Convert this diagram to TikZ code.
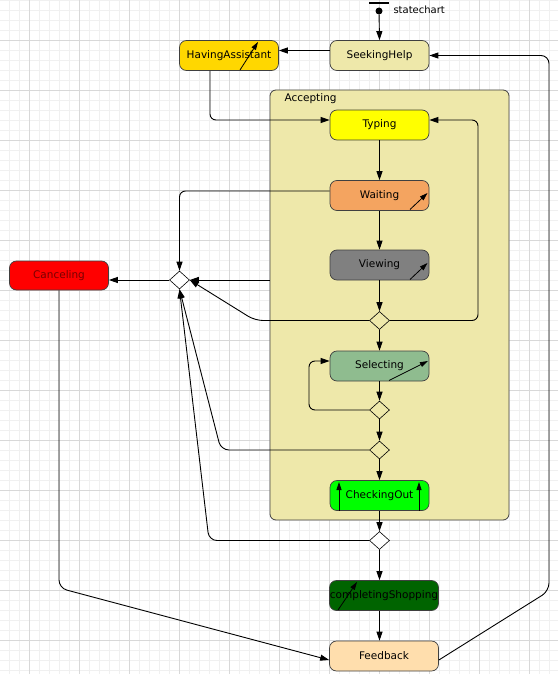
\documentclass[tikz,border=0pt]{standalone}
\usepackage{fontspec}
\setmainfont{DejaVu Sans}
\usetikzlibrary{arrows.meta,shapes.geometric,calc}
\definecolor{pgold}{HTML}{EEE8AA}
\definecolor{gridminor}{HTML}{F0F0F0}
\definecolor{gridmajor}{HTML}{D8D8D8}
\definecolor{bord}{HTML}{404040}
\begin{document}
\begin{tikzpicture}[x=1pt,y=-1pt,
  state/.style={draw=bord, line width=0.7pt, rounded corners=7pt, minimum width=99pt, minimum height=30pt, inner sep=0pt, font=\fontsize{10.5}{12}\selectfont},
  choice/.style={draw=black, line width=0.6pt, shape=diamond, minimum width=20pt, minimum height=18pt, inner sep=0pt},
  arr/.style={draw=black, line width=0.9pt, -{Triangle[length=9pt,width=6pt]}},
  icon/.style={draw=black, line width=0.8pt, -{Triangle[length=8pt,width=5pt]}}
]
\useasboundingbox (0,0) rectangle (558,674);
\fill[white] (0,0) rectangle (558,674);
% grid
\foreach \x in {9,19,...,558} \draw[gridminor, line width=0.6pt] (\x,0) -- (\x,674);
\foreach \y in {0,10,...,674} \draw[gridminor, line width=0.6pt] (0,\y) -- (558,\y);
\foreach \x in {29,79,...,558} \draw[gridmajor, line width=0.6pt] (\x,0) -- (\x,674);
\foreach \y in {40,90,...,674} \draw[gridmajor, line width=0.6pt] (0,\y) -- (558,\y);

% composite state
\node[draw=bord, line width=0.8pt, fill=pgold, rounded corners=6pt, minimum width=239pt, minimum height=430pt, inner sep=0pt] (acc) at (389.5,305) {};
\node[anchor=west, font=\fontsize{10.5}{12}\selectfont] (acclabel) at (281,99) {Accepting};

% initial
\draw[line width=2pt] (369,3) -- (389,3);
\node[circle, fill=black, inner sep=0pt, minimum size=7pt] (init) at (379,11) {};
\node[anchor=west, font=\fontsize{10}{12}\selectfont] (sclabel) at (390,9.5) {statechart};

% states
\node[state, fill=pgold] (seek) at (379.5,55.5) {SeekingHelp};
\node[state, fill={rgb,255:red,255;green,215;blue,0}] (having) at (229,55.5) {HavingAssistant};
\node[state, fill={rgb,255:red,255;green,255;blue,0}] (typing) at (379.5,125) {Typing};
\node[state, fill={rgb,255:red,244;green,164;blue,96}] (waiting) at (379.5,195.5) {Waiting};
\node[state, fill={rgb,255:red,128;green,128;blue,128}] (viewing) at (379.5,265) {Viewing};
\node[state, fill={rgb,255:red,143;green,188;blue,143}] (selecting) at (379.5,366) {Selecting};
\node[state, fill={rgb,255:red,0;green,255;blue,0}] (checking) at (379.5,495.5) {CheckingOut};
\node[state, fill={rgb,255:red,0;green,100;blue,0}, minimum width=109pt] (completing) at (384,595.5) {completingShopping};
\node[state, fill={rgb,255:red,255;green,222;blue,173}, minimum width=109pt] (feedback) at (384,656) {Feedback};
\node[state, fill={rgb,255:red,255;green,0;blue,0}, text={rgb,255:red,120;green,0;blue,0}, minimum height=29pt] (canceling) at (59,275.5) {Canceling};

% choices
\node[choice, fill=white] (dl) at (179.5,280) {};
\node[choice, fill=pgold] (d1) at (379.5,320.5) {};
\node[choice, fill=pgold] (d2) at (379.5,410) {};
\node[choice, fill=pgold] (d3) at (379.5,450) {};
\node[choice, fill=white] (d4) at (379.5,540.5) {};

% internal transition icons
\draw[icon] (240,70) -- (258,42);
\draw[icon] (410,209.5) -- (427.5,193);
\draw[icon] (410,279.5) -- (427.5,263);
\draw[icon] (389,380.5) -- (428,361);
\draw[icon] (338,610) -- (357,582);
\draw[icon] (339,510.5) -- (339,482);
\draw[icon] (419,510.5) -- (419,482);

% transitions
\draw[arr] (init) -- (seek.north);
\draw[arr] ([yshift=5pt]seek.west) -- ([yshift=5pt]having.east);
\draw[arr, rounded corners=6pt] ([xshift=-19pt]having.south) |- ([yshift=5pt]typing.west);
\draw[arr] (typing) -- (waiting);
\draw[arr] (waiting) -- (viewing);
\draw[arr] (viewing) -- (d1);
\draw[arr, rounded corners=6pt] (d1.east) -- (478,320.5) -- (478,120) -- ([yshift=5pt]typing.east);
\draw[arr] (d1) -- (selecting);
\draw[arr, rounded corners=8pt] (d1.west) -- (255,320.5) -- (dl.east);
\draw[arr, rounded corners=6pt] ([yshift=4.5pt]waiting.west) -| (dl.north);
\draw[arr] (acc.west |- dl.east) -- (dl.east);
\draw[arr] (dl.west) -- (dl.west -| canceling.east);
\draw[arr] (selecting) -- (d2);
\draw[arr, rounded corners=6pt] (d2.west) -- (309,410) -- (309,361) -- ([yshift=5pt]selecting.west);
\draw[arr] (d2) -- (d3);
\draw[arr, rounded corners=8pt] (d3.west) -- (221,450) -- (dl.south);
\draw[arr] (d3) -- (checking);
\draw[arr] (checking) -- (d4);
\draw[arr, rounded corners=8pt] (d4.west) -- (209,540.5) -- (dl.south);
\draw[arr] (d4.south) -- (d4.south |- completing.north);
\draw[arr] (d4.south |- completing.south) -- (d4.south |- feedback.north);
\draw[arr, rounded corners=8pt] (canceling.south) -- (59,588) -- ([yshift=-4pt]feedback.west);
\draw[arr, rounded corners=8pt] ([yshift=-4pt]feedback.east) -- (549,591) -- (549,55.5) -- (seek.east);
\end{tikzpicture}
\end{document}
